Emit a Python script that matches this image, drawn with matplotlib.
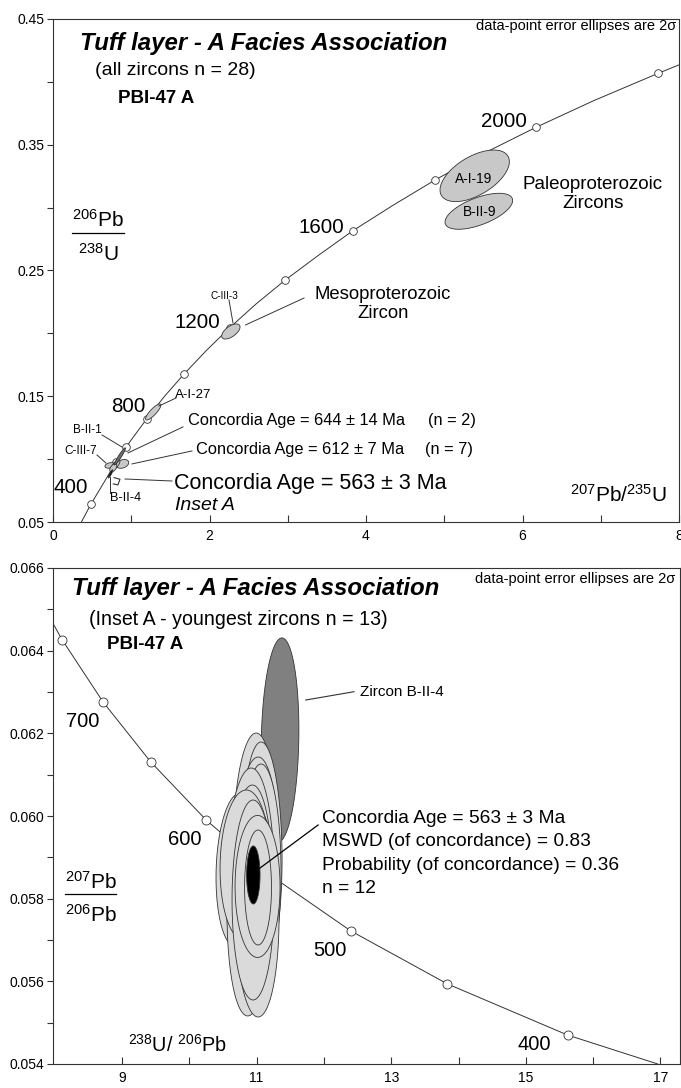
import numpy as np
import matplotlib
matplotlib.use("Agg")
from matplotlib import pyplot as plt
from matplotlib.ticker import FormatStrFormatter

plt.rcParams["font.family"] = ["Liberation Sans", "DejaVu Sans"]
plt.rcParams["mathtext.fontset"] = "custom"
plt.rcParams["mathtext.rm"] = "Liberation Sans"
plt.rcParams["mathtext.it"] = "Liberation Sans:italic"
plt.rcParams["mathtext.bf"] = "Liberation Sans:bold"

# ---- top panel: Wetherill concordia (207Pb/235U vs 206Pb/238U) ----
top_curve_x = [0.363, 0.483, 0.643, 0.806, 0.993, 1.199, 1.424, 1.677, 1.955, 2.260, 2.597,
               2.970, 3.386, 3.834, 4.341, 4.886, 5.497, 6.170, 6.911, 7.730, 8.0]
top_curve_y = [0.050, 0.0640, 0.0806, 0.0975, 0.1147, 0.1321, 0.1499, 0.1678, 0.1861, 0.2046, 0.2235,
               0.2425, 0.2618, 0.2817, 0.3017, 0.3221, 0.3429, 0.3638, 0.3851, 0.4067, 0.4135]
top_marker_x = [0.483, 0.806, 0.930, 1.199, 1.677, 2.260, 2.970, 3.834, 4.886, 6.170, 7.730]
top_marker_y = [0.0640, 0.0975, 0.1098, 0.1321, 0.1678, 0.2046, 0.2425, 0.2817, 0.3221, 0.3638, 0.4067]
top_age_labels = ["400", "800", "1200", "1600", "2000"]
top_age_x = [0.230, 0.958, 1.850, 3.434, 5.763]
top_age_y = [0.0771, 0.1415, 0.2085, 0.284, 0.3683]

# grains: centre, 2-sigma half widths, error correlation
light_x = [5.389, 5.442, 2.273, 1.281, 0.728, 0.888, 0.800, 0.770]
light_y = [0.3253, 0.2971, 0.2015, 0.1375, 0.0950, 0.0962, 0.0955, 0.0930]
light_ex = [0.443, 0.432, 0.117, 0.098, 0.064, 0.080, 0.055, 0.045]
light_ey = [0.0205, 0.0143, 0.0060, 0.0064, 0.0022, 0.0035, 0.0038, 0.0032]
light_rho = [0.55, 0.60, 0.60, 0.85, 0.30, 0.30, 0.70, 0.50]
dark_top = dict(cx=[0.856], cy=[0.1022], ex=[0.070], ey=[0.0068], rho=[0.95])
black_top = dict(cx=[0.735], cy=[0.0883], ex=[0.030], ey=[0.0032], rho=[0.90])

# ---- bottom panel: Tera-Wasserburg (238U/206Pb vs 207Pb/206Pb) ----
tw_curve_x = [7.975, 8.108, 8.718, 9.426, 10.252, 11.228, 12.399, 13.831, 15.621, 16.96]
tw_curve_y = [0.06466, 0.06427, 0.06276, 0.06131, 0.05990, 0.05854, 0.05722, 0.05594, 0.05470, 0.0540]
tw_marker_x = tw_curve_x[1:-1]
tw_marker_y = tw_curve_y[1:-1]
tw_age_labels = ["700", "600", "500", "400"]
tw_age_x = [8.415, 9.93, 12.09, 15.12]
tw_age_y = [0.06228, 0.05944, 0.05674, 0.05446]

tw_x = [10.724, 10.977, 11.081, 10.991, 11.066, 10.902, 10.902, 11.006, 10.828, 10.947, 11.014, 11.021]
tw_y = [0.058694, 0.059310, 0.059081, 0.058935, 0.058633, 0.058439, 0.057956, 0.057665,
        0.058814, 0.057968, 0.058296, 0.058270]
tw_ex = [0.327, 0.327, 0.297, 0.327, 0.297, 0.357, 0.342, 0.327, 0.371, 0.312, 0.334, 0.200]
tw_ey = [0.001863, 0.002698, 0.002710, 0.002492, 0.002625, 0.002722, 0.002794, 0.002528,
         0.001815, 0.002419, 0.001718, 0.001391]
tw_rho = [0.10, 0.05, -0.05, 0.10, 0.0, 0.05, 0.10, -0.05, 0.05, 0.0, 0.0, 0.0]
b2_4 = dict(cx=[11.348], cy=[0.061839], ex=[0.280], ey=[0.00247], rho=[0.10])
conc_age = dict(cx=[10.951], cy=[0.058573], ex=[0.0996], ey=[0.000702], rho=[0.0])
stats_lines = ["Concordia Age = 563 \u00b1 3 Ma", "MSWD (of concordance) = 0.83",
               "Probability (of concordance) = 0.36", "n = 12"]


def draw_ellipses(ax, cx, cy, ex, ey, rho, color, z):
    t = np.linspace(0, 2 * np.pi, 150)
    for i in range(len(cx)):
        xs = cx[i] + ex[i] * np.cos(t)
        ys = cy[i] + ey[i] * (rho[i] * np.cos(t) + np.sqrt(1 - rho[i] ** 2) * np.sin(t))
        ax.fill(xs, ys, facecolor=color, edgecolor="#333333", linewidth=0.6, zorder=z)


def style_axes(ax):
    for s in ax.spines.values():
        s.set_linewidth(0.8)
        s.set_color("#333333")
    ax.tick_params(axis="x", which="both", direction="in", length=5, width=0.8,
                   labelsize=10, pad=5, colors="#333333", labelcolor="black")
    ax.tick_params(axis="y", which="both", direction="out", length=4.5, width=0.8,
                   labelsize=10, pad=1.5, colors="#333333", labelcolor="black")


fig = plt.figure(figsize=(6.81, 10.88), dpi=100)
ax1 = fig.add_axes([53 / 681, 1 - 522 / 1088, 626 / 681, 503 / 1088])
ax2 = fig.add_axes([53 / 681, 1 - 1064 / 1088, 627 / 681, 496 / 1088])

# ---------------- top panel ----------------
ax1.set_xlim(0, 8)
ax1.set_ylim(0.05, 0.45)
ax1.set_xticks([0, 2, 4, 6, 8])
ax1.set_xticks([1, 3, 5, 7], minor=True)
ax1.set_yticks([0.05, 0.15, 0.25, 0.35, 0.45])
ax1.set_yticks([0.10, 0.20, 0.30, 0.40], minor=True)
ax1.yaxis.set_major_formatter(FormatStrFormatter("%.2f"))
style_axes(ax1)

ax1.plot(top_curve_x, top_curve_y, color="#333333", lw=0.7, zorder=1)
ax1.plot(top_marker_x, top_marker_y, "o", ms=5.5, mfc="white", mec="#333333", mew=0.6, zorder=2)
draw_ellipses(ax1, light_x, light_y, light_ex, light_ey, light_rho, "#c8c8c8", 3)
draw_ellipses(ax1, **dark_top, color="#6e6e6e", z=4)
draw_ellipses(ax1, **black_top, color="black", z=4)
for lab, x, y in zip(top_age_labels, top_age_x, top_age_y):
    ax1.text(x, y, lab, fontsize=14.8, ha="center", va="center")

ax1.text(0.339, 0.4309, "Tuff layer - A Facies Association", fontsize=17.3,
         fontweight="bold", fontstyle="italic", ha="left", va="center")
ax1.text(0.537, 0.4087, "(all zircons n = 28)", fontsize=14, ha="left", va="center")
ax1.text(0.831, 0.3864, "PBI-47 A", fontsize=13.5, fontweight="bold", ha="left", va="center")
ax1.text(7.97, 0.4444, "data-point error ellipses are 2\u03c3", fontsize=10.5, ha="right", va="center")

ax1.text(6.901, 0.3108, "Paleoproterozoic\nZircons", fontsize=13.5, ha="center", va="center",
         linespacing=1.1)
ax1.text(4.212, 0.2234, "Mesoproterozoic\nZircon", fontsize=13.3, ha="center", va="center",
         linespacing=1.1)
ax1.text(5.374, 0.3230, "A-I-19", fontsize=9.8, ha="center", va="center", zorder=5)
ax1.text(5.456, 0.2965, "B-II-9", fontsize=9.8, ha="center", va="center", zorder=5)
ax1.text(2.185, 0.2297, "C-III-3", fontsize=7.2, ha="center", va="center")
ax1.text(1.789, 0.1510, "A-I-27", fontsize=9.5, ha="center", va="center")
ax1.text(0.435, 0.1232, "B-II-1", fontsize=8.5, ha="center", va="center")
ax1.text(0.358, 0.1065, "C-III-7", fontsize=8.5, ha="center", va="center")
ax1.text(0.933, 0.0692, "B-II-4", fontsize=9.2, ha="center", va="center")

ax1.text(1.725, 0.1306, "Concordia Age = 644 \u00b1 14 Ma", fontsize=11.8, ha="left", va="center")
ax1.text(4.792, 0.1306, "(n = 2)", fontsize=11.8, ha="left", va="center")
ax1.text(1.822, 0.1073, "Concordia Age = 612 \u00b1 7 Ma", fontsize=11.8, ha="left", va="center")
ax1.text(4.754, 0.1073, "(n = 7)", fontsize=11.8, ha="left", va="center")
ax1.text(1.546, 0.0810, "Concordia Age = 563 \u00b1 3 Ma", fontsize=15.5, ha="left", va="center")
ax1.text(1.559, 0.0635, "Inset A", fontsize=14, fontstyle="italic", ha="left", va="center")

leaders_top = [((2.461, 3.208), (0.2067, 0.2281)), ((2.249, 2.300), (0.2266, 0.2083)),
               ((1.355, 1.572), (0.1423, 0.1486)), ((0.626, 0.882), (0.1192, 0.1096)),
               ((0.562, 0.677), (0.1033, 0.0969)), ((0.728, 0.728), (0.0732, 0.0859)),
               ((0.958, 1.661), (0.1049, 0.1256)), ((1.010, 1.776), (0.0962, 0.1065)),
               ((0.920, 1.521), (0.0842, 0.0826))]
for xs, ys in leaders_top:
    ax1.plot(xs, ys, color="#333333", lw=0.7, zorder=5)
ax1.plot([0.780, 0.856, 0.830, 0.770], [0.0853, 0.0840, 0.0795, 0.0803], color="#333333",
         lw=0.8, zorder=5)

ax1.text(7.847, 0.0715, r"$^{207}$Pb/$^{235}$U", fontsize=15, ha="right", va="center")
ax1.text(0.575, 0.2902, r"$^{206}$Pb", fontsize=15, ha="center", va="center")
ax1.plot([0.243, 0.907], [0.2799, 0.2799], color="black", lw=0.9)
ax1.text(0.575, 0.2632, r"$^{238}$U", fontsize=15, ha="center", va="center")

# ---------------- bottom panel ----------------
ax2.set_xlim(7.975, 17.29)
ax2.set_ylim(0.054, 0.066)
ax2.set_xticks([9, 11, 13, 15, 17])
ax2.set_xticks([10, 12, 14, 16], minor=True)
ax2.set_yticks([0.054, 0.056, 0.058, 0.060, 0.062, 0.064, 0.066])
ax2.set_yticks([0.055, 0.057, 0.059, 0.061, 0.063, 0.065], minor=True)
ax2.yaxis.set_major_formatter(FormatStrFormatter("%.3f"))
style_axes(ax2)

ax2.plot(tw_curve_x, tw_curve_y, color="#333333", lw=0.7, zorder=1)
ax2.plot(tw_marker_x, tw_marker_y, "o", ms=6.5, mfc="white", mec="#333333", mew=0.6, zorder=2)
draw_ellipses(ax2, **b2_4, color="#808080", z=3)
draw_ellipses(ax2, tw_x, tw_y, tw_ex, tw_ey, tw_rho, "#dadada", 4)
draw_ellipses(ax2, **conc_age, color="black", z=5)
for lab, x, y in zip(tw_age_labels, tw_age_x, tw_age_y):
    ax2.text(x, y, lab, fontsize=14.5, ha="center", va="center")

ax2.text(8.253, 0.065509, "Tuff layer - A Facies Association", fontsize=17.3,
         fontweight="bold", fontstyle="italic", ha="left", va="center")
ax2.text(8.510, 0.064766, "(Inset A - youngest zircons n = 13)", fontsize=14.1, ha="left", va="center")
ax2.text(8.770, 0.064161, "PBI-47 A", fontsize=13.5, fontweight="bold", ha="left", va="center")
ax2.text(17.22, 0.065734, "data-point error ellipses are 2\u03c3", fontsize=10.5, ha="right", va="center")

ax2.plot([11.730, 12.447], [0.062806, 0.063007], color="#333333", lw=0.8, zorder=6)
ax2.text(12.537, 0.062993, "Zircon B-II-4", fontsize=11, ha="left", va="center")
ax2.plot([11.051, 11.913], [0.058742, 0.059782], color="black", lw=0.9, zorder=6)
for i, line in enumerate(stats_lines):
    ax2.text(11.968, 0.059944 - i * 0.000570, line, fontsize=13.8, ha="left", va="center")

ax2.text(9.089, 0.05446, r"$^{238}$U/ $^{206}$Pb", fontsize=14.3, ha="left", va="center")
ax2.text(8.531, 0.05841, r"$^{207}$Pb", fontsize=15, ha="center", va="center")
ax2.plot([8.153, 8.918], [0.058113, 0.058113], color="black", lw=0.9)
ax2.text(8.531, 0.057605, r"$^{206}$Pb", fontsize=15, ha="center", va="center")

fig.savefig("out.png", dpi=100)
